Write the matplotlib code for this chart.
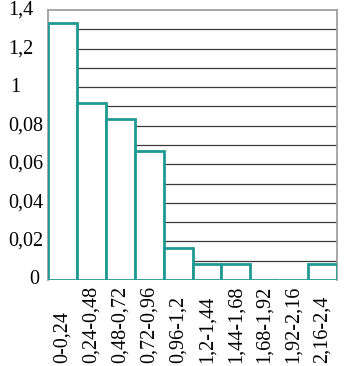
import matplotlib
matplotlib.use("Agg")
import matplotlib.pyplot as plt
import matplotlib.transforms as mtransforms

categories = ["0-0,24", "0,24-0,48", "0,48-0,72", "0,72-0,96", "0,96-1,2",
              "1,2-1,44", "1,44-1,68", "1,68-1,92", "1,92-2,16", "2,16-2,4"]
values = [1.333, 0.917, 0.833, 0.667, 0.167, 0.083, 0.083, 0.0, 0.0, 0.083]
ytick_values = [0, 0.2, 0.4, 0.6, 0.8, 1.0, 1.2, 1.4]
ytick_labels = ["0", "0,02", "0,04", "0,06", "0,08", "1", "1,2", "1,4"]
grid_values = [0.1, 0.2, 0.3, 0.4, 0.5, 0.6, 0.7, 0.8, 0.9, 1.0, 1.1, 1.2, 1.3]

W, H = 357, 366
fig = plt.figure(figsize=(W / 100, H / 100), dpi=100)
ax = fig.add_axes([48 / W, 1 - 280 / H, 289 / W, 270 / H])

teal = "#1f9a92"
fs = 14.5
font = "Liberation Serif"

x = list(range(len(categories)))
ax.bar(x, values, width=1.0, facecolor="white", edgecolor=teal,
       linewidth=2.0, zorder=3)
for g in grid_values:
    ax.axhline(g, color="#3a3a3a", linewidth=0.9, zorder=1)

ax.set_xlim(-0.5, len(categories) - 0.5)
ax.set_ylim(0, 1.4)
ax.set_xticks([])
ax.set_yticks([])
for side in ["top", "right", "left"]:
    ax.spines[side].set_color("#a0a0a0")
    ax.spines[side].set_linewidth(1.3)
ax.spines["bottom"].set_visible(False)

# y labels (left edges)
left_px = {"0": 29, "1": 10}
trans_y = mtransforms.blended_transform_factory(ax.transAxes, ax.transData)
for v, lab in zip(ytick_values, ytick_labels):
    lx = left_px.get(lab, 8)
    ax.text((lx - 48) / 289, v, lab, transform=trans_y, ha="left",
            va="center", fontsize=fs, family=font, color="black")

# x labels, rotated, starting at a common bottom line
trans_x = mtransforms.blended_transform_factory(ax.transData, ax.transAxes)
for xi, lab in zip(x, categories):
    ax.text(xi, -(363 - 280) / 270, lab, transform=trans_x, rotation=90,
            ha="center", va="bottom", fontsize=fs, family=font, color="black")

fig.savefig("out.png", dpi=100)
